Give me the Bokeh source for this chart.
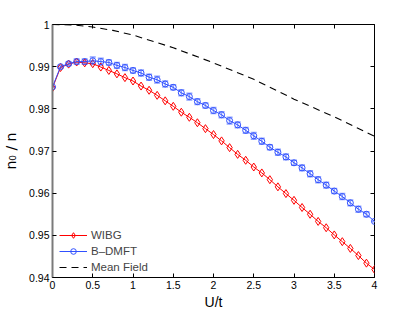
from bokeh.plotting import figure
from bokeh.models import (Range1d, FixedTicker, LinearAxis, Whisker, ColumnDataSource,
                          Legend, LegendItem, TeeHead, NumeralTickFormatter)
from bokeh.embed import file_html
from bokeh.resources import INLINE

U = [0.0, 0.1, 0.2, 0.3, 0.4, 0.5, 0.6, 0.7, 0.8, 0.9,
     1.0, 1.1, 1.2, 1.3, 1.4, 1.5, 1.6, 1.7, 1.8, 1.9,
     2.0, 2.1, 2.2, 2.3, 2.4, 2.5, 2.6, 2.7, 2.8, 2.9,
     3.0, 3.1, 3.2, 3.3, 3.4, 3.5, 3.6, 3.7, 3.8, 3.9, 4.0]

wibg = [0.9850, 0.9898, 0.9906, 0.9911, 0.9909, 0.9907, 0.9899, 0.9891, 0.9883, 0.9874,
        0.9866, 0.9854, 0.9844, 0.9832, 0.9819, 0.9806, 0.9792, 0.9780, 0.9767, 0.9753,
        0.9739, 0.9724, 0.9708, 0.9692, 0.9678, 0.9662, 0.9648, 0.9632, 0.9615, 0.9599,
        0.9583, 0.9566, 0.9550, 0.9533, 0.9518, 0.9501, 0.9485, 0.9469, 0.9452, 0.9434, 0.9419]

bdmft = [0.9852, 0.9900, 0.9907, 0.9912, 0.9912, 0.9914, 0.9912, 0.9910, 0.9903, 0.9898,
         0.9891, 0.9885, 0.9875, 0.9869, 0.9859, 0.9851, 0.9838, 0.9829, 0.9817, 0.9808,
         0.9796, 0.9786, 0.9772, 0.9762, 0.9749, 0.9736, 0.9723, 0.9709, 0.9697, 0.9686,
         0.9672, 0.9660, 0.9646, 0.9632, 0.9619, 0.9605, 0.9592, 0.9577, 0.9562, 0.9550, 0.9533]

bdmft_err = [0.0000, 0.0003, 0.0004, 0.0006, 0.0006, 0.0009, 0.0008, 0.0006, 0.0007, 0.0007,
             0.0006, 0.0007, 0.0007, 0.0008, 0.0007, 0.0006, 0.0007, 0.0008, 0.0007, 0.0006,
             0.0007, 0.0007, 0.0008, 0.0007, 0.0007, 0.0008, 0.0007, 0.0006, 0.0007, 0.0007,
             0.0006, 0.0007, 0.0007, 0.0007, 0.0007, 0.0006, 0.0007, 0.0007, 0.0007, 0.0006, 0.0000]

mf_U = [0.0, 0.25, 0.5, 0.75, 1.0, 1.5, 2.0, 2.5, 3.0, 3.5, 4.0]
mean_field = [1.0000, 0.9999, 0.9994, 0.9986, 0.9975, 0.9945, 0.9909, 0.9870, 0.9823, 0.9781, 0.9735]

x_ticks = [0, 0.5, 1, 1.5, 2, 2.5, 3, 3.5, 4]
y_ticks = [0.94, 0.95, 0.96, 0.97, 0.98, 0.99, 1.0]

FONT = "Liberation Sans"

p = figure(frame_width=322, frame_height=253, output_backend="svg", toolbar_location=None,
           x_range=Range1d(0, 4), y_range=Range1d(0.94, 1.0),
           min_border_left=50, min_border_right=28, min_border_top=24, min_border_bottom=28)
p.background_fill_color = "white"
p.border_fill_color = "white"
p.outline_line_color = "black"
p.outline_line_width = 1
p.xgrid.visible = False
p.ygrid.visible = False

src = ColumnDataSource(dict(U=U, wibg=wibg, bdmft=bdmft,
                            up=[b + e for b, e in zip(bdmft, bdmft_err)],
                            lo=[b - e for b, e in zip(bdmft, bdmft_err)]))

mf = p.line(mf_U, mean_field, line_color="black", line_width=1.1, line_dash="7 5")

r_line = p.line("U", "wibg", source=src, line_color="#ff0000", line_width=1)
r_mark = p.scatter("U", "wibg", source=src, marker="diamond", size=8,
                   line_color="#ff0000", fill_color=None, line_width=1)

wcol = "#8ea2ff"
wh = Whisker(source=src, base="U", upper="up", lower="lo", dimension="height",
             line_color=wcol, line_width=1.5,
             upper_head=TeeHead(size=6, line_color=wcol, line_width=1.5),
             lower_head=TeeHead(size=6, line_color=wcol, line_width=1.5))
p.add_layout(wh)
b_line = p.line("U", "bdmft", source=src, line_color="#3050ff", line_width=1)
b_mark = p.scatter("U", "bdmft", source=src, marker="circle", size=6,
                   line_color="#3050ff", fill_color=None, line_width=1)

for ax in (p.xaxis[0], p.yaxis[0]):
    ax.major_tick_in = 4
    ax.major_tick_out = 0
    ax.minor_tick_line_color = None
    ax.major_label_text_font = FONT
    ax.major_label_text_font_size = "10.5px"
    ax.major_label_text_color = "black"
    ax.axis_label_text_font = FONT
    ax.axis_label_text_font_style = "normal"
    ax.axis_label_text_color = "black"
    ax.formatter = NumeralTickFormatter(format="0.[00]")
    ax.major_label_standoff = 3

p.xaxis[0].ticker = FixedTicker(ticks=x_ticks)
p.yaxis[0].ticker = FixedTicker(ticks=y_ticks)
p.xaxis[0].axis_label = "U/t"
p.xaxis[0].axis_label_text_font_size = "14px"
p.xaxis[0].axis_label_standoff = 2
p.xaxis[0].axis_line_color = "black"
p.yaxis[0].axis_label = "n\u2080 / n"
p.yaxis[0].axis_label_text_font = "DejaVu Sans"
p.yaxis[0].axis_label_text_font_size = "14px"
p.yaxis[0].axis_label_standoff = 7
p.yaxis[0].axis_line_color = "#7a7a7a"
p.yaxis[0].axis_line_width = 2

top = LinearAxis(ticker=FixedTicker(ticks=x_ticks), major_tick_in=4, major_tick_out=0,
                 minor_tick_line_color=None, axis_line_color=None,
                 major_label_text_font_size="1px", major_label_text_alpha=0)
right = LinearAxis(ticker=FixedTicker(ticks=y_ticks), major_tick_in=4, major_tick_out=0,
                   minor_tick_line_color=None, axis_line_color=None,
                   major_label_text_font_size="1px", major_label_text_alpha=0)
p.add_layout(top, "above")
p.add_layout(right, "right")

legend = Legend(items=[LegendItem(label="WIBG", renderers=[r_line, r_mark]),
                       LegendItem(label="B\u2013DMFT", renderers=[b_line, b_mark]),
                       LegendItem(label="Mean Field", renderers=[mf])],
                location=(7, 3), padding=4, spacing=2, glyph_width=28, glyph_height=14,
                label_height=14, label_standoff=4, border_line_color=None,
                background_fill_alpha=0, label_text_font=FONT, label_text_font_size="11.5px",
                margin=0)
p.add_layout(legend, "center")

open("out.html", "w").write(file_html(p, INLINE))
